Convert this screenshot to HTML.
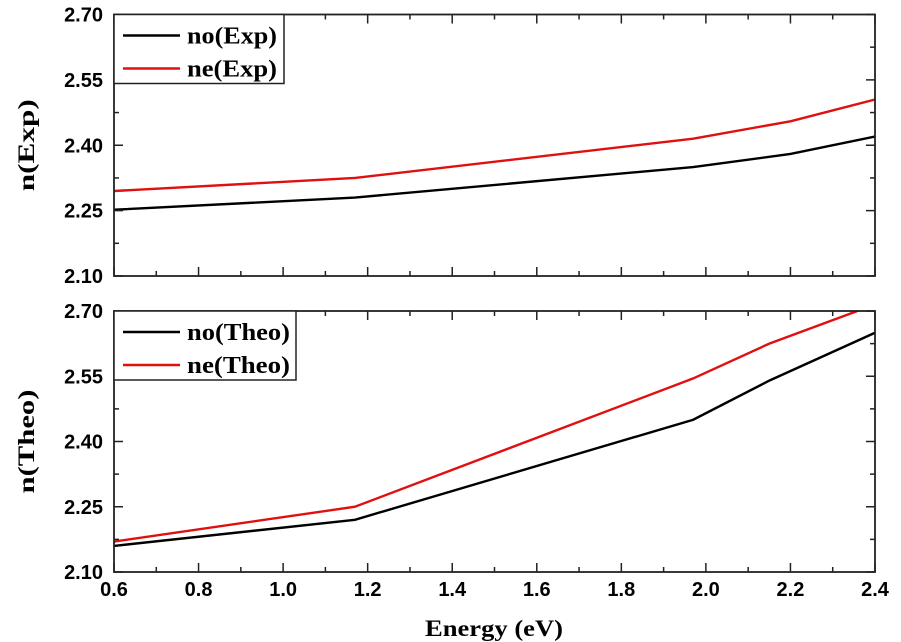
<!DOCTYPE html>
<html><head><meta charset="utf-8"><style>
body{margin:0;background:#fff;width:901px;height:642px;overflow:hidden}
svg{display:block}
text{font-family:"Liberation Sans",Arial,sans-serif;font-weight:bold}
.serif{font-family:"Liberation Serif","Times New Roman",serif;font-weight:bold}
</style></head><body>
<svg id="chart" width="901" height="642" xmlns="http://www.w3.org/2000/svg"></svg>
<script>
const xTicks=[0.6,0.8,1.0,1.2,1.4,1.6,1.8,2.0,2.2,2.4];
const xTickLabels=["0.6","0.8","1.0","1.2","1.4","1.6","1.8","2.0","2.2","2.4"];
const yTicks=[2.10,2.25,2.40,2.55,2.70];
const yTickLabels=["2.10","2.25","2.40","2.55","2.70"];
const expEnergy=[0.6,1.17,1.97,2.2,2.4];
const noExp=[2.252,2.28,2.35,2.38,2.42];
const neExp=[2.295,2.325,2.415,2.455,2.505];
const theoEnergy=[0.6,1.17,1.97,2.15,2.4];
const noTheo=[2.16,2.22,2.45,2.54,2.65];
const neTheo=[2.17,2.25,2.545,2.625,2.715];
const NS="http://www.w3.org/2000/svg";
const svg=document.getElementById('chart');
const X0=114,X1=875;
const xs=v=>X0+(v-0.6)/(2.4-0.6)*(X1-X0);
function mk(tag,attrs,parent){const e=document.createElementNS(NS,tag);for(const k in attrs)e.setAttribute(k,attrs[k]);(parent||svg).appendChild(e);return e;}
function panel(top,bot,name,series,legend,ytitle,showX){
  const g=mk('g',{});
  
  
  const ys=v=>bot-(v-2.1)/(2.7-2.1)*(bot-top);
  const clip=mk('clipPath',{id:'c'+name},g);mk('rect',{x:X0,y:top,width:X1-X0,height:bot-top},clip);
  series.forEach(s=>{
    const p=mk('polyline',{points:s.x.map((e,i)=>xs(e)+','+ys(s.y[i])).join(' '),fill:'none',stroke:s.c,'stroke-width':2.4,'clip-path':'url(#c'+name+')'},g);
    
    
  });
  mk('rect',{x:X0,y:top,width:X1-X0,height:bot-top,fill:'none',stroke:'#222','stroke-width':1.8},g);
  for(let v=0.6;v<=2.401;v+=0.1){const x=xs(v);const maj=Math.round(v*10)%2===0;const l=maj?9:5;
    mk('line',{x1:x,x2:x,y1:bot,y2:bot-l,stroke:'#222','stroke-width':1.5},g);
    mk('line',{x1:x,x2:x,y1:top,y2:top+l,stroke:'#222','stroke-width':1.5},g);}
  for(let v=2.1;v<=2.701;v+=0.075){const y=ys(v);const maj=Math.round((v-2.1)/0.075)%2===0;const l=maj?9:5;
    mk('line',{x1:X0,x2:X0+l,y1:y,y2:y,stroke:'#222','stroke-width':1.5},g);
    mk('line',{x1:X1,x2:X1-l,y1:y,y2:y,stroke:'#222','stroke-width':1.5},g);}
  yTicks.forEach((v,i)=>{const t=mk('text',{x:X0-11,y:ys(v)+7,'text-anchor':'end','font-size':20},g);t.textContent=yTickLabels[i];
    });
  if(showX)xTicks.forEach((v,i)=>{const t=mk('text',{x:xs(v),y:bot+24,'text-anchor':'middle','font-size':20},g);t.textContent=xTickLabels[i];
    });
  const yt=mk('text',{x:0,y:0,class:'serif','text-anchor':'middle','font-size':23,textLength:ytitle.length>6?104:92,lengthAdjust:'spacingAndGlyphs',transform:`translate(34,${(top+bot)/2}) rotate(-90)`},g);yt.textContent=ytitle;
  
  const lg=mk('g',{},g);
  mk('rect',{x:X0,y:top,width:legend.w,height:69,fill:'#fff',stroke:'#222','stroke-width':1.5},lg);
  series.forEach((s,i)=>{const y=top+21+i*33;
    mk('line',{x1:X0+9,x2:X0+66,y1:y,y2:y,stroke:s.c,'stroke-width':2.4},lg);
    const t=mk('text',{x:X0+73,y:y+8,class:'serif','font-size':24,textLength:legend.tl,lengthAdjust:'spacingAndGlyphs'},lg);t.textContent=s.n;
    });
}
panel(14.5,276,'exp-panel',[{x:expEnergy,y:noExp,c:'#000',n:'no(Exp)'},{x:expEnergy,y:neExp,c:'#e01010',n:'ne(Exp)'}],{w:170,tl:90},'n(Exp)',false);
panel(311,572,'theo-panel',[{x:theoEnergy,y:noTheo,c:'#000',n:'no(Theo)'},{x:theoEnergy,y:neTheo,c:'#e01010',n:'ne(Theo)'}],{w:182,tl:103},'n(Theo)',true);
const xt=mk('text',{x:494,y:636,class:'serif','text-anchor':'middle','font-size':23,textLength:138,lengthAdjust:'spacingAndGlyphs'});xt.textContent='Energy (eV)';


</script>
</body></html>
